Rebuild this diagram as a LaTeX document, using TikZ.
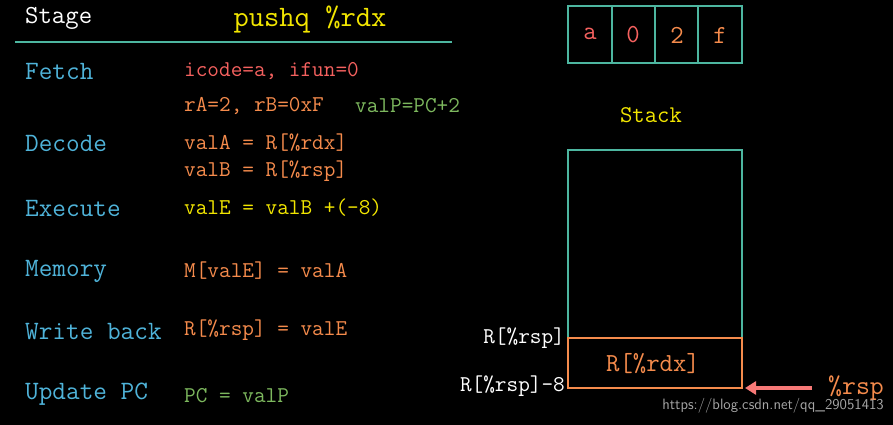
\documentclass[tikz,border=0pt]{standalone}
\usepackage{fontspec}
\usetikzlibrary{arrows.meta}
\definecolor{teal1}{HTML}{4DB6A0}
\definecolor{blu}{HTML}{4FB3D9}
\definecolor{ylw}{HTML}{F2E600}
\definecolor{org}{HTML}{F58B4C}
\definecolor{rd}{HTML}{F5615F}
\definecolor{grn}{HTML}{7DB85E}
\begin{document}
\begin{tikzpicture}[x=1pt,y=-1pt,
  t/.style={anchor=west,inner sep=0pt,font=\ttfamily\fontsize{22.6}{24}\selectfont},
  st/.style={t,text=blu,font=\ttfamily\fontsize{26.5}{28}\selectfont},
  big/.style={inner sep=0pt,font=\ttfamily\fontsize{26}{28}\selectfont},
  box/.style={draw=teal1,line width=2pt}]
\fill[black] (0,0) rectangle (893,425);
\useasboundingbox (0,0) rectangle (893,425);
\node[t,text=white,font=\ttfamily\fontsize{26}{28}\selectfont] (stage) at (25,18) {Stage};
\node[inner sep=0pt,text=ylw,font=\ttfamily\fontsize{29.7}{32}\selectfont] (title) at (310,19) {pushq \%rdx};
\draw[teal1,line width=2.5pt] (15,42) -- (452,42);
\node[st] (f) at (25,71) {Fetch};
\node[st] (d) at (25,143) {Decode};
\node[st] (e) at (25,208) {Execute};
\node[st] (m) at (25,271) {Memory};
\node[st] (w) at (25,332) {Write back};
\node[st] (u) at (25,394) {Update PC};
\node[t,text=rd] (f1) at (184,71) {icode=a, ifun=0};
\node[t,text=org] (f2) at (184,106) {rA=2, rB=0xF};
\node[t,text=grn] (f3) at (355,106) {valP=PC+2};
\node[t,text=org] (d1) at (184,143) {valA = R[\%rdx]};
\node[t,text=org] (d2) at (184,171) {valB = R[\%rsp]};
\node[t,text=ylw] (e1) at (184,208) {valE = valB +(-8)};
\node[t,text=org] (m1) at (184,271) {M[valE] = valA};
\node[t,text=org] (w1) at (184,330) {R[\%rsp] = valE};
\node[t,text=grn] (u1) at (184,396) {PC = valP};
% instruction bytes
\draw[box] (568,6) rectangle (612,63);
\draw[box] (612,6) rectangle (655,63);
\draw[box] (655,6) rectangle (698,63);
\draw[box] (698,6) rectangle (742,63);
\node[big,text=rd] (b1) at (590,34) {a};
\node[big,text=rd] (b2) at (633,35) {0};
\node[big,text=org] (b3) at (677,35) {2};
\node[big,text=org] (b4) at (720,35) {f};
\node[big,text=ylw,font=\ttfamily\fontsize{24}{26}\selectfont] (stk) at (651,115) {Stack};
\draw[box] (568,150) rectangle (742,338);
\draw[draw=org,line width=2pt] (568,338) rectangle (742,388);
\node[big,text=org] (rdx) at (653,364) {R[\%rdx]};
\node[inner sep=0pt,anchor=east,text=white,font=\ttfamily\fontsize{22.6}{24}\selectfont] (l1) at (565,338) {R[\%rsp]};
\node[inner sep=0pt,anchor=east,text=white,font=\ttfamily\fontsize{22.6}{24}\selectfont] (l2) at (565,386) {R[\%rsp]-8};
\node[inner sep=0pt,anchor=west,text=org,font=\ttfamily\fontsize{27}{29}\selectfont] (rsp) at (828,388) {\%rsp};
\coordinate (tip) at (745,388);
\draw[rd!85!white,line width=3.5pt,-{Triangle[length=11pt,width=13pt]}] (812,388) -- (tip);
\node[inner sep=0pt,anchor=east,text=gray!70,font=\fontsize{15}{17}\selectfont\sffamily] (wm) at (884,406) {https://blog.csdn.net/qq\_29051413};
\end{tikzpicture}
\end{document}
